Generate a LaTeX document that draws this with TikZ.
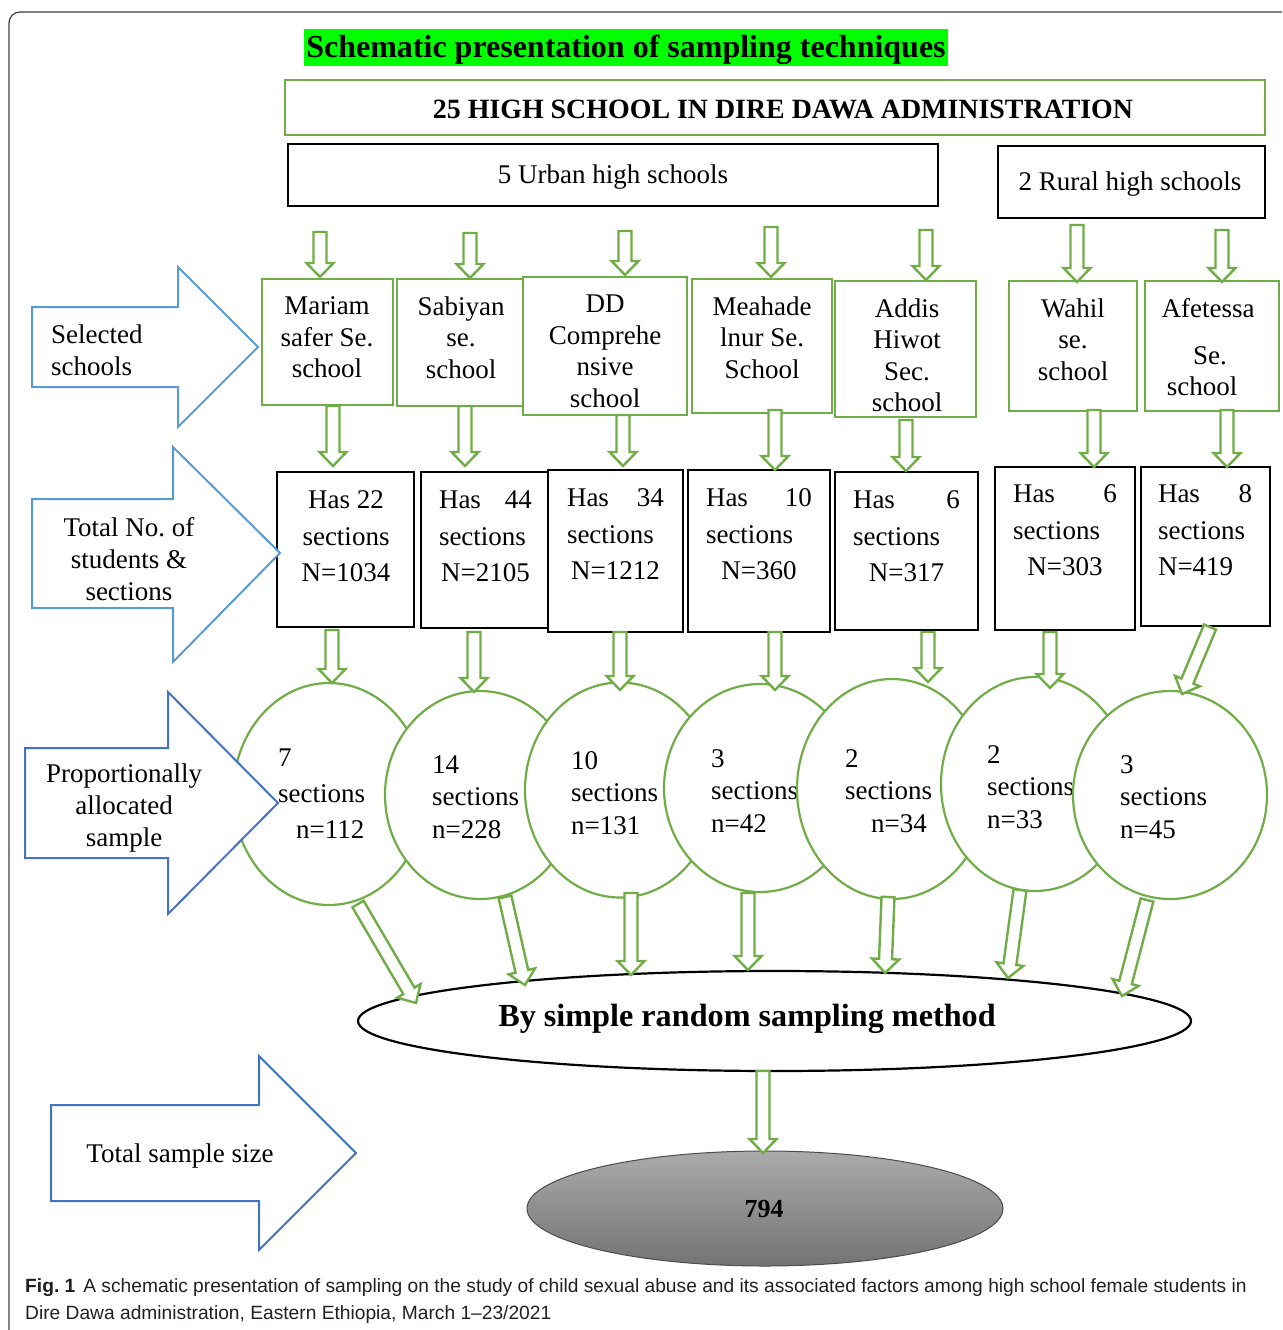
\documentclass[tikz,border=0pt]{standalone}
\usepackage{fontspec}
\setmainfont{Liberation Serif}
\newfontfamily\capfont{Liberation Sans}
\usetikzlibrary{shapes.geometric,calc}
\definecolor{gr}{HTML}{70AD47}
\definecolor{blA}{HTML}{5B9BD5}
\definecolor{blB}{HTML}{4472C4}
\definecolor{hl}{HTML}{00FF00}
\definecolor{captxt}{HTML}{231F20}
\frenchspacing
\tikzset{
  gbox/.style={draw=gr, line width=2.4, inner sep=0, minimum width=#1},
  kbox/.style={draw=black, line width=2.4, inner sep=0, minimum width=#1},
  txt/.style={inner sep=0, font=\fontsize{27}{31.5}\selectfont, align=center},
  stxt/.style={inner sep=0, font=\fontsize{27}{36.5}\selectfont, align=center},
  ctxt/.style={inner sep=0, font=\fontsize{27}{32.5}\selectfont, align=left, anchor=west},
  circ/.style={ellipse, draw=gr, line width=2.2, fill=white, inner sep=0},
  blarrow/.style={line width=2, fill=white},
  garrow/.style={draw=gr, line width=2.4, fill=white, line join=miter},
}
\newcommand\garr[3][6.5]{%
  \draw[garrow] let \p1=(#2), \p2=(#3), \n1={atan2(\y2-\y1,\x2-\x1)}, \n2={veclen(\x2-\x1,\y2-\y1)} in
    [shift={(\p1)}, rotate=\n1] (0,#1) -- (\n2-14,#1) -- (\n2-14,13.5) -- (\n2,0) -- (\n2-14,-13.5) -- (\n2-14,-#1) -- (0,-#1) -- cycle;}
\begin{document}
\begin{tikzpicture}[x=1pt,y=-1pt]
\useasboundingbox (0,0) rectangle (1282,1330);
\clip (0,0) rectangle (1282,1330);
% outer frame
\draw[line width=1.2, draw=black!75, rounded corners=11] (9,1400) -- (9,12) -- (1400,12);

% title
\fill[hl] (304,29) rectangle (948,66);
\node[inner sep=0, font=\fontsize{32}{36}\selectfont\bfseries] (title) at (626,50) {Schematic presentation of sampling techniques};

\node[gbox=980, minimum height=55] (all) at (775,107.5) {};
\node[inner sep=0, font=\fontsize{27.9}{32}\selectfont\bfseries] (allt) at (783,109) {25 HIGH SCHOOL IN DIRE DAWA ADMINISTRATION};
\node[kbox=650, minimum height=62] (urban) at (613,175) {};
\node[txt] (urbant) at (613,177.5) {5 Urban high schools};
\node[kbox=267, minimum height=72] (rural) at (1131.5,182) {};
\node[txt] (ruralt) at (1130,184.5) {2 Rural high schools};

% school boxes
\node[gbox=131, minimum height=126] (m1) at (327.5,342) {};
\node[gbox=126, minimum height=127] (m2) at (460,342.5) {};
\node[gbox=164, minimum height=138] (m3) at (605,346) {};
\node[gbox=140, minimum height=134] (m4) at (762,346) {};
\node[gbox=141, minimum height=136] (m5) at (905.5,349) {};
\node[gbox=128, minimum height=130] (m6) at (1073,346) {};
\node[gbox=134, minimum height=130] (m7) at (1212,346) {};
\node[txt] (m1t) at (327,337.5) {Mariam\\safer Se.\\school};
\node[txt] (m2t) at (461,337.5) {Sabiyan\\se.\\school};
\node[txt] (m3t) at (605,351.5) {DD\\Comprehe\\nsive\\school};
\node[txt] (m4t) at (762,337.5) {Meahade\\lnur Se.\\School};
\node[txt] (m5t) at (907,355.5) {Addis\\Hiwot\\Sec.\\school};
\node[txt] (m6t) at (1073,339.5) {Wahil\\se.\\school};
\node[txt] (m7t) at (1208,347.5) {Afetessa\\[15pt]\hspace*{4pt}Se.\\\hspace*{-12pt}school};

% section boxes
\node[kbox=137, minimum height=155] (s1) at (345.5,549.5) {};
\node[kbox=127, minimum height=156] (s2) at (484.5,550) {};
\node[kbox=135, minimum height=162] (s3) at (615.5,551) {};
\node[kbox=142, minimum height=162] (s4) at (759,551) {};
\node[kbox=143, minimum height=158] (s5) at (906.5,551) {};
\node[kbox=140, minimum height=163] (s6) at (1065,548.5) {};
\node[kbox=129, minimum height=159] (s7) at (1205.5,546.5) {};
\node[stxt] (s1t) at (346,536.5) {Has 22\\sections\\N=1034};
\node[stxt] (s2t) at (485.5,536.5) {\hbox to 93pt{Has\hfill 44}\\\hbox to 93pt{sections\hfill}\\N=2105};
\node[stxt] (s3t) at (615.5,534.5) {\hbox to 97pt{Has\hfill 34}\\\hbox to 97pt{sections\hfill}\\N=1212};
\node[stxt] (s4t) at (759,534.5) {\hbox to 106pt{Has\hfill 10}\\\hbox to 106pt{sections\hfill}\\N=360};
\node[stxt] (s5t) at (906.5,536.5) {\hbox to 107pt{Has\hfill 6}\\\hbox to 107pt{sections\hfill}\\N=317};
\node[stxt] (s6t) at (1065,530.5) {\hbox to 104pt{Has\hfill 6}\\\hbox to 104pt{sections\hfill}\\N=303};
\node[stxt] (s7t) at (1205,530.5) {\hbox to 94pt{Has\hfill 8}\\\hbox to 94pt{sections\hfill}\\\hbox to 94pt{N=419\hfill}};

% blue block arrows 1,2
\draw[blarrow, draw=blA] (32,307) -- (178,307) -- (178,267) -- (258,347) -- (178,427) -- (178,387) -- (32,387) -- cycle;
\node[ctxt, font=\fontsize{27}{32}\selectfont] (ba1) at (51,350.5) {Selected\\schools};
\draw[blarrow, draw=blA] (32,499) -- (173,499) -- (173,447) -- (280,553) -- (173,662) -- (173,608) -- (32,608) -- cycle;
\node[txt, font=\fontsize{27}{32}\selectfont] (ba2) at (129,559.5) {Total No. of\\students \&\\sections};

% circles
\node[circ, minimum width=192, minimum height=222] (c1) at (329,794) {};
\draw[blarrow, draw=blB] (25,748) -- (168,748) -- (168,692) -- (278,803) -- (168,914) -- (168,858) -- (25,858) -- cycle;
\node[txt, font=\fontsize{27}{32}\selectfont] (ba3) at (124,808) {Proportionally\\allocated\\sample};
\node[ctxt, font=\fontsize{27}{36}\selectfont] (c1t) at (278,794) {7\\sections\\\hspace*{18pt}n=112};
\node[circ, minimum width=190, minimum height=208] (c2) at (480,795) {};
\node[ctxt] (c2t) at (432,797) {14\\sections\\n=228};
\node[circ, minimum width=190, minimum height=215] (c3) at (620,790) {};
\node[ctxt] (c3t) at (571,793) {10\\sections\\n=131};
\node[circ, minimum width=192, minimum height=208] (c4) at (760,788) {};
\node[ctxt] (c4t) at (711,791) {3\\sections\\n=42};
\node[circ, minimum width=190, minimum height=220] (c5) at (892,789) {};
\node[ctxt] (c5t) at (845,791) {2\\sections\\\hspace*{26pt}n=34};
\node[circ, minimum width=188, minimum height=214] (c6) at (1035,784) {};
\node[ctxt] (c6t) at (987,787) {2\\sections\\n=33};
\node[circ, minimum width=194, minimum height=208] (c7) at (1170,795) {};
\node[ctxt] (c7t) at (1120,797) {3\\sections\\n=45};

% random sampling ellipse
\node[ellipse, draw=black, line width=2.2, minimum width=833, minimum height=100, inner sep=0] (srs) at (774.5,1021) {};
\node[inner sep=0, font=\fontsize{32.2}{36}\selectfont\bfseries] (srst) at (747,1019) {By simple random sampling method};

% total sample size
\draw[blarrow, draw=blB] (51,1105) -- (259,1105) -- (259,1056) -- (356,1153) -- (259,1250) -- (259,1201) -- (51,1201) -- cycle;
\node[txt] (ba4) at (180,1156) {Total sample size};
\node[ellipse, draw=black!70, line width=1, top color=black!33, bottom color=black!55, minimum width=476, minimum height=115, inner sep=0] (tot) at (765,1208.5) {};
\node[inner sep=0, font=\fontsize{26}{30}\selectfont\bfseries] (tott) at (764,1209) {794};

% green hollow arrows
\foreach \i/\xa/\ya/\xb/\yb in {
  1/320/232/320/277, 2/470/233/470/278, 3/625/231/625/275, 4/771/227/771/277,
  5/926/230/926/280, 6/1077/225/1077/282, 7/1222/230/1222/282,
  8/333/406/333/466, 9/465/406/465/466, 10/623/415/623/466, 11/775/410/775/470,
  12/906/420/906/471, 13/1094/410/1094/467, 14/1227/410/1227/467,
  15/332/630/332/683, 16/474/632/474/692, 17/620/632/620/690, 18/775/632/775/690,
  19/928/632/928/682, 20/1050/632/1050/688, 21/1210/627/1182/694,
  22/358/904/416/1003, 23/505/897/525/985, 24/631/893/631/975, 25/748/893/748/970,
  26/888/897/885/973, 27/1020/890/1008/978, 28/1147/900/1122/996,
  29/763/1071/763/1153}{
  \coordinate (p\i) at (\xa,\ya);
  \coordinate (q\i) at (\xb,\yb);
  \garr{p\i}{q\i}
}

% caption
\node[inner sep=0, anchor=base west, text=captxt, font=\capfont\fontsize{19.2}{23}\selectfont] (cap1) at (25,1292) {\textbf{Fig. 1}\hspace{8pt}A schematic presentation of sampling on the study of child sexual abuse and its associated factors among high school female students in};
\node[inner sep=0, anchor=base west, text=captxt, font=\capfont\fontsize{19.2}{23}\selectfont] (cap2) at (25,1319) {Dire Dawa administration, Eastern Ethiopia, March 1–23/2021};
\end{tikzpicture}
\end{document}
